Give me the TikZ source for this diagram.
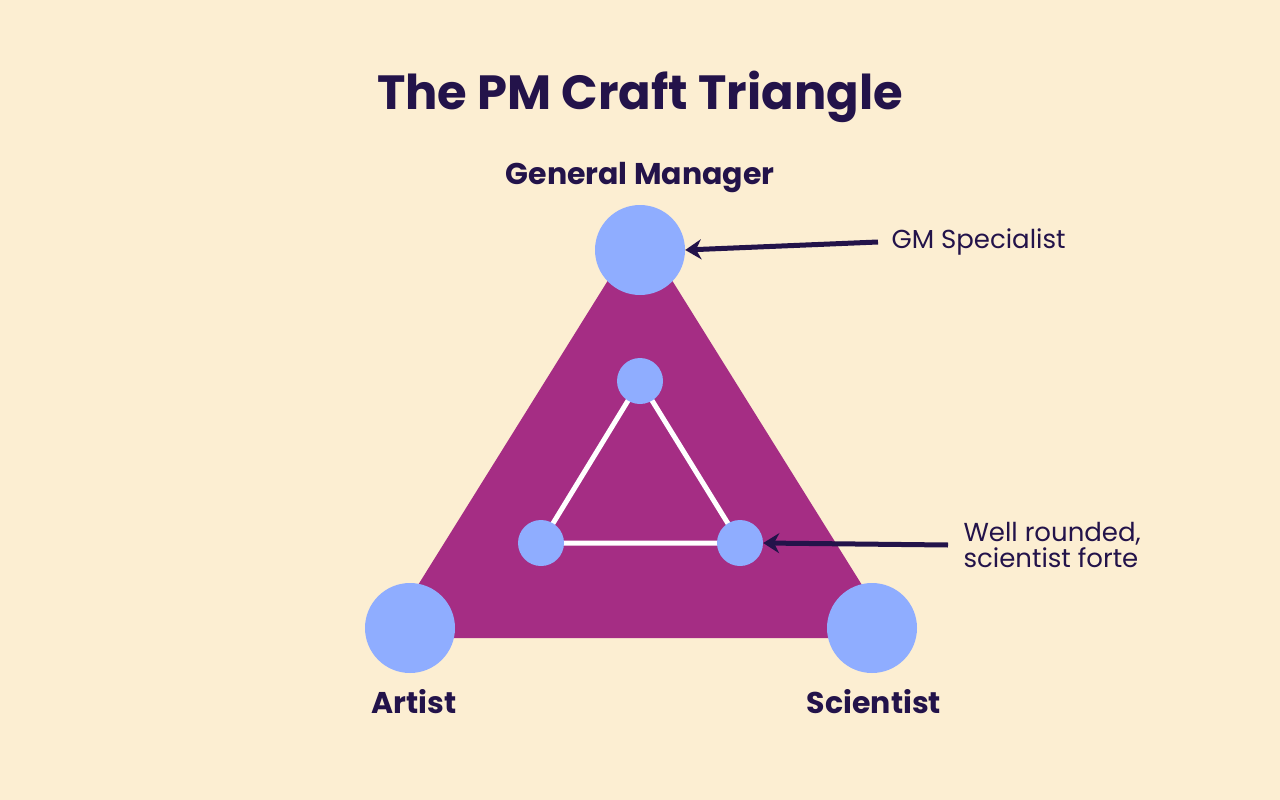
\documentclass[tikz,border=0pt]{standalone}
\usepackage{fontspec}
\setmainfont{Poppins}
\usetikzlibrary{arrows.meta}
\definecolor{bg}{HTML}{FCEED2}
\definecolor{purp}{HTML}{A52D84}
\definecolor{blu}{HTML}{8FADFF}
\definecolor{ink}{HTML}{23134A}
\begin{document}
\begin{tikzpicture}[x=1pt,y=-1pt,
  big/.style={circle,fill=blu,minimum size=90pt,inner sep=0},
  small/.style={circle,fill=blu,minimum size=46pt,inner sep=0},
  lbl/.style={text=ink,font=\fontsize{30}{36}\selectfont\bfseries},
  note/.style={text=ink,font=\fontsize{26}{30}\selectfont,align=left,anchor=west},
  arr/.style={draw=ink,line width=5pt,-{Stealth[length=16pt,width=20pt]}}]
\fill[bg] (0,0) rectangle (1280,800);
\useasboundingbox (0,0) rectangle (1280,800);
\node[text=ink,font=\fontsize{48}{56}\selectfont\bfseries] (title) at (640,97) {The PM Craft Triangle};
\fill[purp] (640,229) -- (385,638) -- (895,638) -- cycle;
\node[big] (gm) at (640,250) {};
\node[big] (ar) at (410,628) {};
\node[big] (sc) at (872,628) {};
\draw[white,line width=5pt] (640,381) -- (541,543) -- (740,543) -- cycle;
\node[small] (i1) at (640,381) {};
\node[small] (i2) at (541,543) {};
\node[small] (i3) at (740,543) {};
\node[lbl] (gml) at (640,178) {General Manager};
\node[lbl] (arl) at (414,702) {Artist};
\node[lbl] (scl) at (874,702) {Scientist};
\node[note] (n1) at (888,242) {GM Specialist};
\node[note] (n2) at (960,545) {Well rounded,\\[-4pt]scientist forte};
\coordinate (a1) at (878,242);
\coordinate (a2) at (948,545);
\draw[arr] (a1) -- (gm.east);
\draw[arr] (a2) -- (i3.east);
\end{tikzpicture}
\end{document}
